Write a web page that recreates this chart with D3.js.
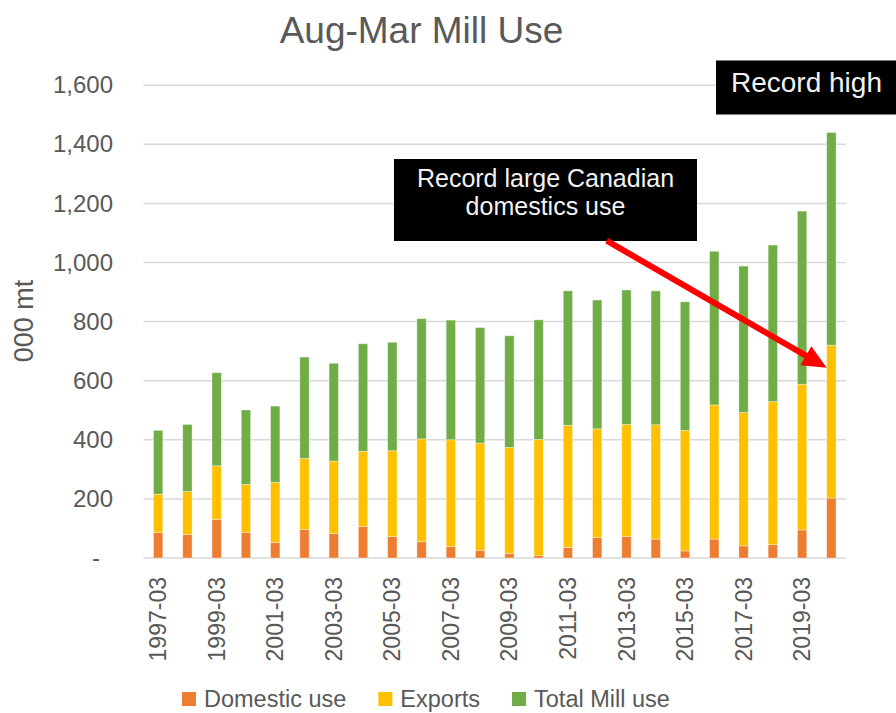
<!DOCTYPE html>
<html>
<head>
<meta charset="utf-8">
<script src="https://cdn.jsdelivr.net/npm/d3@7"></script>
<style>
  html, body { margin: 0; padding: 0; background: #fff; }
  svg { display: block; }
  text { font-family: "Liberation Sans", Arial, sans-serif; }
</style>
</head>
<body>
<svg id="chart" width="896" height="713"></svg>
<script>
// ---- data ----
const categories = ["1997-03","1998-03","1999-03","2000-03","2001-03","2002-03","2003-03","2004-03",
  "2005-03","2006-03","2007-03","2008-03","2009-03","2010-03","2011-03","2012-03",
  "2013-03","2014-03","2015-03","2016-03","2017-03","2018-03","2019-03","2020-03"];
const domesticUse  = [87,80,131,87,53,97,83,107,73,55,39,26,16,8,36,69,73,64,24,64,41,45,95,203];
const exportsUse   = [129,145,181,162,203,240,245,254,290,348,361,363,358,393,413,368,379,387,408,454,451,484,493,517];
const totalMillUse = [216,227,315,252,258,343,331,364,367,407,405,391,378,405,455,436,455,453,435,520,496,530,586,720];
const seriesNames  = ["Domestic use","Exports","Total Mill use"];
const seriesColors = ["#ED7D31","#FFC000","#70AD47"];
const yTicks = [0,200,400,600,800,1000,1200,1400,1600];
const xTickLabels = categories.filter((d,i) => i % 2 === 0);
const titleText = "Aug-Mar Mill Use";
const yAxisTitle = "000 mt";
const noteLarge = ["Record large Canadian","domestics use"];
const noteHigh = "Record high";

// ---- layout ----
const svg = d3.select("#chart");
const textGray = "#595959";
const plot = {left: 143.5, right: 846, top: 85.2, bottom: 558};

const rows = categories.map((c,i) => ({cat: c, "Domestic use": domesticUse[i], "Exports": exportsUse[i], "Total Mill use": totalMillUse[i]}));
const stack = d3.stack().keys(seriesNames)(rows);

const x = d3.scaleBand().domain(categories).range([plot.left, plot.right]).paddingInner(0.68).paddingOuter(0.34);
const y = d3.scaleLinear().domain([0, 1600]).range([plot.bottom, plot.top]);
const color = d3.scaleOrdinal().domain(seriesNames).range(seriesColors);

// gridlines
svg.append("g").selectAll("line").data(yTicks).join("line")
  .attr("x1", plot.left).attr("x2", plot.right)
  .attr("y1", d => y(d)).attr("y2", d => y(d))
  .attr("stroke", "#d9d9d9").attr("stroke-width", 1.5);

// y axis labels
const yAxis = d3.axisLeft(y).tickValues(yTicks).tickSize(0).tickPadding(0)
  .tickFormat(d => d === 0 ? "-" : d3.format(",")(d));
const gy = svg.append("g").attr("transform", `translate(113,0)`).call(yAxis);
gy.select(".domain").remove();
gy.selectAll("text").attr("fill", textGray).attr("font-size", 24)
  .attr("font-family", "Liberation Sans, Arial, sans-serif")
  .attr("x", d => d === 0 ? -13 : 0);

// bars
svg.append("g").selectAll("g").data(stack).join("g")
  .attr("fill", d => color(d.key))
  .selectAll("rect").data(d => d).join("rect")
  .attr("x", d => x(d.data.cat))
  .attr("width", x.bandwidth())
  .attr("y", d => y(d[1]))
  .attr("height", d => y(d[0]) - y(d[1]))
  .attr("stroke", "#ffffff").attr("stroke-opacity", 0.45).attr("stroke-width", 0.8);

// x axis labels
const xAxis = d3.axisBottom(x).tickSize(0).tickPadding(0)
  .tickFormat(d => xTickLabels.includes(d) ? d : "");
const gx = svg.append("g").attr("transform", `translate(0,${plot.bottom})`).call(xAxis);
gx.select(".domain").remove();
gx.selectAll("text")
  .attr("fill", textGray).attr("font-size", 23)
  .attr("font-family", "Liberation Sans, Arial, sans-serif")
  .attr("text-anchor", "end")
  .attr("transform", "translate(0,19) rotate(-90)")
  .attr("x", 0).attr("y", 0).attr("dy", "0.35em");

// title
svg.append("text").attr("x", 421.5).attr("y", 42.5).attr("text-anchor", "middle")
  .attr("font-size", 37).attr("fill", textGray).text(titleText);

// y axis title
svg.append("text").attr("transform", "translate(33,321) rotate(-90)")
  .attr("text-anchor", "middle").attr("font-size", 27).attr("fill", textGray).text(yAxisTitle);

// legend
const lg = svg.append("g");
let lx = 182;
seriesNames.forEach((name, i) => {
  lg.append("rect").attr("x", lx).attr("y", 692).attr("width", 14).attr("height", 14).attr("fill", seriesColors[i]);
  const t = lg.append("text").attr("x", lx + 22).attr("y", 706.5).attr("font-size", 23.5)
    .attr("fill", textGray).text(name);
  lx = lx + 22 + t.node().getComputedTextLength() + 32;
});

// annotation: record large domestic use
svg.append("rect").attr("x", 394).attr("y", 159).attr("width", 303).attr("height", 82).attr("fill", "#000");
svg.append("text").attr("x", 545.5).attr("y", 186.5).attr("text-anchor", "middle")
  .attr("font-size", 25).attr("fill", "#f2f2f2").text(noteLarge[0]);
svg.append("text").attr("x", 545.5).attr("y", 214.5).attr("text-anchor", "middle")
  .attr("font-size", 25).attr("fill", "#f2f2f2").text(noteLarge[1]);

// annotation: record high
svg.append("rect").attr("x", 716).attr("y", 60.5).attr("width", 180).attr("height", 54).attr("fill", "#000");
svg.append("text").attr("x", 806.5).attr("y", 92).attr("text-anchor", "middle")
  .attr("font-size", 28).attr("fill", "#f2f2f2").text(noteHigh);

// red arrow
const last = categories[categories.length - 1];
const tip = [x(last), y(644)];
const start = [606.7, 240.7];
const dx = tip[0] - start[0], dy = tip[1] - start[1];
const len = Math.hypot(dx, dy);
const ux = dx / len, uy = dy / len;
const headL = 24, headW = 11;
const base = [tip[0] - headL * ux, tip[1] - headL * uy];
svg.append("line").attr("x1", start[0]).attr("y1", start[1])
  .attr("x2", base[0] + 2 * ux).attr("y2", base[1] + 2 * uy)
  .attr("stroke", "#ff0000").attr("stroke-width", 6);
svg.append("path").attr("fill", "#ff0000")
  .attr("d", `M${tip[0]},${tip[1]} L${base[0] - headW * uy},${base[1] + headW * ux} L${base[0] + headW * uy},${base[1] - headW * ux} Z`);
</script>
</body>
</html>
